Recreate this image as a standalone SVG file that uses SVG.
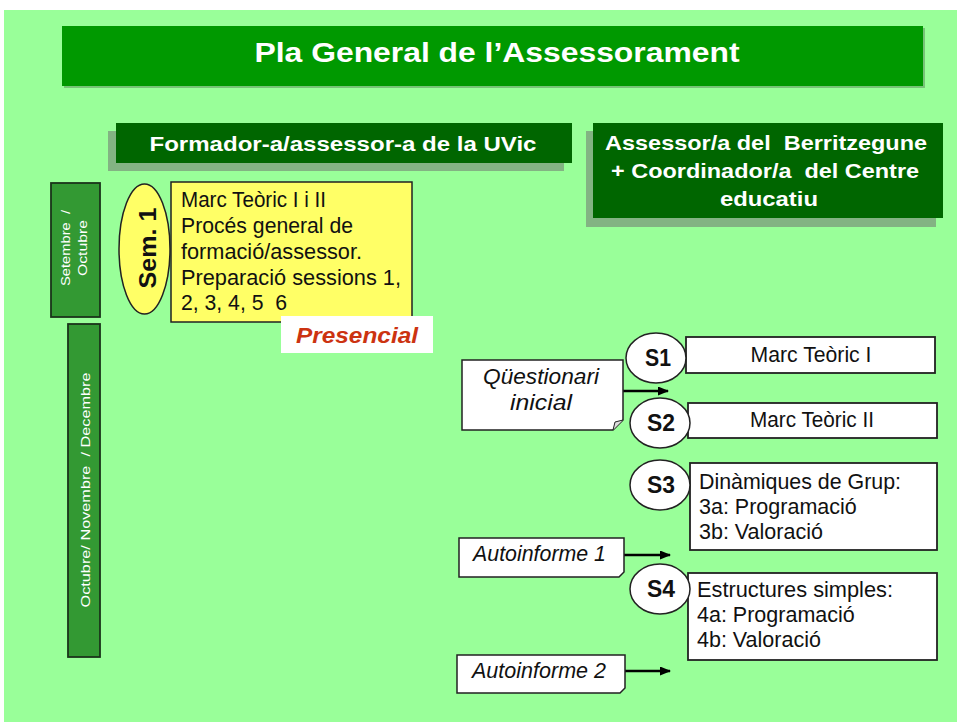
<svg xmlns="http://www.w3.org/2000/svg" width="957" height="722" viewBox="0 0 957 722">
<defs>
<marker id="ah" markerWidth="11" markerHeight="9" refX="10" refY="4.5" orient="auto" markerUnits="userSpaceOnUse">
<path d="M0,0 L11,4.5 L0,9 Z" fill="#000"/>
</marker>
<style>
.t{font-family:"Liberation Sans",Arial,sans-serif}
.hw{fill:#fff;font-weight:bold}
.note{fill:#fff;stroke:#222;stroke-width:1.5}
.box{fill:#fff;stroke:#222;stroke-width:1.8}
.circ{fill:#fff;stroke:#222;stroke-width:1.5}
.sl{font-family:"Liberation Sans",Arial,sans-serif;font-weight:bold;font-size:23px;fill:#111;text-anchor:middle}
.bt{font-family:"Liberation Sans",Arial,sans-serif;font-size:21.5px;fill:#111}
.it{font-family:"Liberation Sans",Arial,sans-serif;font-size:21.5px;font-style:italic;fill:#111}
.vbox{fill:#339933;stroke:#1a331a;stroke-width:1.8}
.vt{font-family:"Liberation Sans",Arial,sans-serif;font-size:13px;fill:#fff;text-anchor:middle}
.conn{stroke:#000;stroke-width:2.5;fill:none}
</style>
</defs>
<rect x="0" y="0" width="957" height="722" fill="#fff"/>
<rect x="4" y="10" width="953" height="712" fill="#99ff99"/>

<g id="title">
<rect x="64" y="28" width="861" height="60" fill="#558855" opacity="0.5"/>
<rect x="62" y="26" width="861" height="60" fill="#009900"/>
<text class="t hw" x="497" y="62" font-size="27" text-anchor="middle" textLength="485" lengthAdjust="spacingAndGlyphs">Pla General de l’Assessorament</text>
</g>

<g id="header-uvic">
<rect x="108" y="131" width="456" height="40" fill="#7fa67f" opacity="0.85"/>
<rect x="116" y="123" width="456" height="40" fill="#006600"/>
<text class="t hw" x="343" y="151" font-size="20" text-anchor="middle" textLength="387" lengthAdjust="spacingAndGlyphs">Formador-a/assessor-a de la UVic</text>
</g>

<g id="header-berritzegune">
<rect x="586" y="131" width="350" height="96" fill="#7fa67f" opacity="0.85"/>
<rect x="593" y="123" width="350" height="95" fill="#006600"/>
<text class="t hw" font-size="21" text-anchor="middle">
<tspan x="769" y="150" textLength="322" lengthAdjust="spacingAndGlyphs">Assessor/a del&#160; Berritzegune</tspan>
<tspan x="768" y="178" textLength="308" lengthAdjust="spacingAndGlyphs">+ Coordinador/a&#160; del Centre</tspan>
<tspan x="769" y="206" textLength="98" lengthAdjust="spacingAndGlyphs">educatiu</tspan>
</text>
</g>

<g id="period-1">
<rect class="vbox" x="51" y="183" width="49" height="134"/>
<text class="vt" transform="translate(75.5,248) rotate(-90)"><tspan x="0" y="-6" textLength="76" lengthAdjust="spacingAndGlyphs">Setembre&#160; /</tspan><tspan x="0" y="11" textLength="56" lengthAdjust="spacingAndGlyphs">Octubre</tspan></text>
</g>

<g id="period-2">
<rect class="vbox" x="68" y="324" width="32" height="333"/>
<text class="vt" transform="translate(89.5,490) rotate(-90)" textLength="235" lengthAdjust="spacingAndGlyphs">Octubre/ Novembre&#160; / Decembre</text>
</g>

<g id="sem1">
<ellipse cx="144.5" cy="249" rx="25.5" ry="65" fill="#ffff66" stroke="#222" stroke-width="1.5"/>
<text class="t" transform="translate(156,248) rotate(-90)" font-size="24" font-weight="bold" fill="#111" text-anchor="middle" textLength="81" lengthAdjust="spacingAndGlyphs">Sem. 1</text>
</g>

<g id="sem1-content">
<rect x="171" y="182" width="241" height="140" fill="#ffff66" stroke="#222" stroke-width="1.5"/>
<text class="bt" font-size="21">
<tspan x="181" y="207" textLength="145" lengthAdjust="spacingAndGlyphs">Marc Teòric I i II</tspan>
<tspan x="181" y="233" textLength="172" lengthAdjust="spacingAndGlyphs">Procés general de</tspan>
<tspan x="181" y="259" textLength="181" lengthAdjust="spacingAndGlyphs">formació/assessor.</tspan>
<tspan x="181" y="285" textLength="220" lengthAdjust="spacingAndGlyphs">Preparació sessions 1,</tspan>
<tspan x="181" y="310" textLength="106" lengthAdjust="spacingAndGlyphs">2, 3, 4, 5&#160; 6</tspan>
</text>
</g>

<g id="presencial">
<rect x="281" y="316" width="152" height="37" fill="#fff"/>
<text class="t" x="357" y="343" font-size="22" font-weight="bold" font-style="italic" fill="#cc3311" text-anchor="middle" textLength="122" lengthAdjust="spacingAndGlyphs">Presencial</text>
</g>

<g id="connectors">
<line class="conn" x1="623" y1="391" x2="668" y2="391" marker-end="url(#ah)"/>
<line class="conn" x1="624" y1="555" x2="670" y2="555" marker-end="url(#ah)"/>
<line class="conn" x1="625" y1="671" x2="670" y2="671" marker-end="url(#ah)"/>
</g>

<g id="questionari">
<path class="note" d="M462,360 H623 V420 L613,430 H462 Z"/>
<path d="M613,430 L615,422 L623,420" fill="#ddd" stroke="#222" stroke-width="1"/>
<text class="it" text-anchor="middle"><tspan x="541" y="384" textLength="116" lengthAdjust="spacingAndGlyphs">Qüestionari</tspan><tspan x="541" y="410" textLength="62" lengthAdjust="spacingAndGlyphs">inicial</tspan></text>
</g>

<g id="s1">
<rect class="box" x="686" y="337" width="249" height="36"/>
<ellipse class="circ" cx="656" cy="358" rx="30" ry="25"/>
<text class="sl" x="658" y="366" textLength="26" lengthAdjust="spacingAndGlyphs">S1</text>
<text class="bt" x="811" y="362" text-anchor="middle" textLength="121" lengthAdjust="spacingAndGlyphs">Marc Teòric I</text>
</g>

<g id="s2">
<rect class="box" x="688" y="403" width="249" height="35"/>
<ellipse class="circ" cx="660" cy="423" rx="30" ry="25"/>
<text class="sl" x="661" y="431" textLength="28" lengthAdjust="spacingAndGlyphs">S2</text>
<text class="bt" x="812" y="427" text-anchor="middle" textLength="124" lengthAdjust="spacingAndGlyphs">Marc Teòric II</text>
</g>

<g id="s3">
<rect class="box" x="690" y="463" width="247" height="87"/>
<ellipse class="circ" cx="660" cy="485" rx="30" ry="25"/>
<text class="sl" x="661" y="493" textLength="28" lengthAdjust="spacingAndGlyphs">S3</text>
<text class="bt"><tspan x="699" y="489" textLength="202" lengthAdjust="spacingAndGlyphs">Dinàmiques de Grup:</tspan><tspan x="699" y="514">3a: Programació</tspan><tspan x="699" y="539">3b: Valoració</tspan></text>
</g>

<g id="autoinforme1">
<path class="note" d="M459,538 H624 V572 L619,577 H459 Z"/>
<text class="it" x="473" y="561" textLength="133" lengthAdjust="spacingAndGlyphs">Autoinforme 1</text>
</g>

<g id="s4">
<rect class="box" x="688" y="573" width="249" height="87"/>
<ellipse class="circ" cx="660" cy="589" rx="30" ry="25"/>
<text class="sl" x="661" y="597" textLength="28" lengthAdjust="spacingAndGlyphs">S4</text>
<text class="bt"><tspan x="697" y="597" textLength="196" lengthAdjust="spacingAndGlyphs">Estructures simples:</tspan><tspan x="697" y="622">4a: Programació</tspan><tspan x="697" y="647">4b: Valoració</tspan></text>
</g>

<g id="autoinforme2">
<path class="note" d="M457,655 H625 V688 L620,693 H457 Z"/>
<text class="it" x="472" y="678" textLength="134" lengthAdjust="spacingAndGlyphs">Autoinforme 2</text>
</g>
</svg>
